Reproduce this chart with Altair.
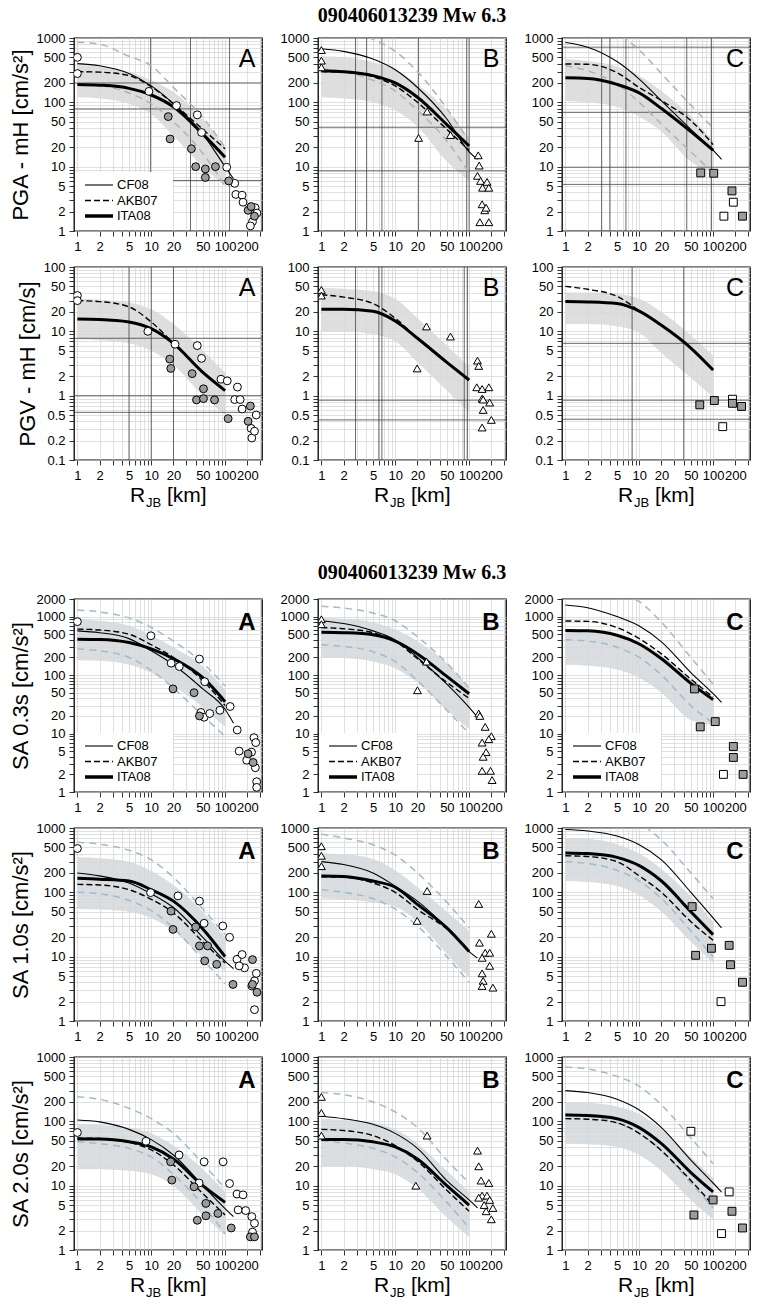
import altair as alt
import pandas as pd

FONT = "Liberation Sans"
SERIF = "Liberation Serif"
TITLE = "090406013239 Mw 6.3"

# model-curve distance nodes (km)
D = [1, 2, 5, 10, 20, 50, 100]
D_CF = [1, 2, 5, 10, 20, 50, 100, 130]

X_LABELS = [1, 2, 5, 10, 20, 50, 100, 200]
Y_LAB_1_1000 = [1, 2, 5, 10, 20, 50, 100, 200, 500, 1000]
Y_LAB_01_100 = [0.1, 0.2, 0.5, 1, 2, 5, 10, 20, 50, 100]
Y_LAB_1_2000 = [1, 2, 5, 10, 20, 50, 100, 200, 500, 1000, 2000]

# ---------------- PGA ----------------
PGA_CF08 = {"A": [400, 370, 280, 180, 95, 32, 10, 6.5],
            "B": [680, 620, 470, 320, 170, 55, 17, 13],
            "C": [850, 720, 430, 230, 105, 38, 18, 13]}
PGA_AKB07 = {"A": [300, 295, 260, 175, 95, 38, 19],
             "B": [300, 295, 250, 180, 100, 38, 18],
             "C": [395, 390, 290, 170, 106, 52, 22]}
PGA_ITA08 = {"A": [190, 185, 165, 130, 85, 32, 14],
             "B": [310, 300, 260, 200, 120, 45, 21],
             "C": [240, 235, 190, 140, 80, 35, 18]}
PGA_BAND_LO = {"A": [120, 115, 95, 66, 30, 10, 5],
               "B": [120, 115, 100, 75, 42, 12, 6],
               "C": [105, 100, 85, 60, 35, 12, 8]}
PGA_BAND_HI = {"A": [380, 360, 300, 220, 145, 55, 20],
               "B": [520, 500, 420, 320, 190, 75, 28],
               "C": [470, 440, 360, 260, 150, 60, 25]}
PGA_SIG_HI = {"A": [860, 800, 520, 370, 170, 58, 20],
              "B": [1500, 1350, 950, 620, 300, 80, 25],
              "C": [2200, 1900, 1200, 650, 280, 90, 40]}
PGA_SIG_LO = {"A": [200, 185, 140, 95, 50, 16, 5],
              "B": [330, 300, 220, 150, 75, 25, 8],
              "C": [370, 310, 190, 100, 46, 17, 8]}
PGA_WHITE = {"A": [(1, 500), (1, 280), (9.3, 148), (22, 89), (42, 64), (48, 34), (105, 9.8),
                   (135, 5.5), (140, 3.7), (170, 3.6), (175, 2.8), (255, 2.3), (235, 1.4),
                   (270, 1.9), (220, 1.2)],
             "B": [(1, 650), (1, 445), (1, 350), (20.7, 28), (27, 72), (56, 31), (133, 15),
                   (137, 10.4), (130, 7.2), (143, 6), (152, 4.7), (175, 5.8), (185, 4.7),
                   (150, 2.6), (163, 2.1), (140, 1.37), (185, 1.37), (170, 2.3)],
             "C": [(188, 2.8), (140, 1.7)]}
PGA_GRAY = {"A": [(17, 60), (18, 27), (35, 19), (40, 10), (54, 9.2), (54, 6.8), (74, 10),
                  (112, 6), (205, 2.1), (225, 2.4), (250, 1.7)],
            "B": [],
            "C": [(68, 8), (102, 7.9), (180, 4.2), (250, 1.7)]}
# dark scan-grid lines seen in the top figure
PGA_DARK_V = {"A": [9.8, 34, 115], "B": [2.9, 4.1, 6.6, 20.7, 93, 100], "C": [3.1, 4, 6.6, 44, 95]}
PGA_DARK_H = {"A": [200, 79, 6.1], "B": [41, 8.6], "C": [720, 70, 9.8, 5.3]}

# ---------------- PGV ----------------
PGV_AKB07 = {"A": [30, 29, 24, 14, 6.5, 2.3, 1.2],
             "B": [37, 34, 27, 16, 7.8, 3.3, 1.75],
             "C": [50, 45, 35, 21, 12.4, 5.5, 2.5]}
PGV_ITA08 = {"A": [15.5, 15.3, 14, 11, 6.5, 2.3, 1.2],
             "B": [22, 22, 20.5, 14.5, 7.8, 3.3, 1.75],
             "C": [29, 28.6, 27, 20.6, 12.4, 5.5, 2.5]}
PGV_BAND_LO = {"A": [7.5, 7.3, 6.5, 5, 3, 1, 0.5],
               "B": [10, 10, 9, 7, 3.3, 1.2, 0.55],
               "C": [13, 13, 12, 9.5, 4.6, 1.9, 0.95]}
PGV_BAND_HI = {"A": [32, 31, 28, 22, 13, 5, 2.3],
               "B": [47, 46, 42, 32, 16, 6, 2.8],
               "C": [40, 40, 38, 32, 20, 8.7, 4.2]}
PGV_WHITE = {"A": [(1, 36), (1, 30), (9, 10), (21, 6.3), (42, 6), (48, 3.8), (88, 1.8), (107, 1.7),
                   (147, 1.36), (135, 0.87), (160, 0.87), (170, 0.62), (264, 0.5), (225, 0.31),
                   (230, 0.22), (250, 0.28)],
             "B": [(1, 44), (1, 36), (26.5, 11.9), (56, 8.3), (19.8, 2.65), (130, 3.5), (135, 2.9),
                   (127, 1.35), (150, 1.27), (185, 1.35), (150, 0.9), (155, 0.87), (190, 0.78),
                   (155, 0.6), (200, 0.42), (150, 0.32)],
             "C": [(183, 0.88), (135, 0.33)]}
PGV_GRAY = {"A": [(17.8, 3.7), (18.4, 2.65), (35.8, 2.2), (41, 0.86), (51, 1.28), (51, 0.9),
                  (72, 0.86), (110, 0.44), (220, 0.69), (205, 0.4)],
            "B": [],
            "C": [(66, 0.72), (104, 0.84), (183, 0.76), (243, 0.68)]}
PGV_DARK_V = {"A": [5, 10, 20], "B": [2.9, 6, 6.6, 86, 95], "C": [8, 40]}
PGV_DARK_H = {"A": [7.8, 1, 0.55], "B": [0.85, 0.42], "C": [6.5, 0.85, 0.43]}

# ---------------- SA 0.3 s ----------------
SA03_CF08 = {"A": [570, 530, 420, 260, 150, 58, 26, 15],
             "B": [850, 760, 570, 400, 200, 70, 28, 19],
             "C": [1580, 1420, 1000, 690, 370, 110, 48, 34]}
SA03_AKB07 = {"A": [610, 590, 500, 330, 200, 80, 30],
              "B": [650, 620, 530, 380, 190, 75, 40],
              "C": [840, 830, 650, 420, 230, 85, 42]}
SA03_ITA08 = {"A": [410, 405, 360, 280, 190, 90, 35],
              "B": [540, 530, 490, 380, 230, 95, 48],
              "C": [580, 570, 480, 340, 190, 72, 38]}
SA03_BAND_LO = {"A": [180, 175, 150, 110, 65, 28, 13],
                "B": [200, 195, 170, 130, 75, 25, 12],
                "C": [150, 145, 125, 90, 50, 17, 14]}
SA03_BAND_HI = {"A": [900, 850, 700, 480, 300, 140, 55],
                "B": [950, 920, 800, 600, 380, 160, 60],
                "C": [600, 590, 500, 370, 220, 85, 40]}
SA03_SIG_HI = {"A": [1300, 1200, 950, 650, 380, 160, 65],
               "B": [1500, 1400, 1150, 850, 450, 160, 60],
               "C": [3500, 3200, 2500, 1800, 800, 200, 70]}
SA03_SIG_LO = {"A": [280, 260, 200, 120, 60, 20, 9],
               "B": [330, 310, 250, 170, 80, 25, 10],
               "C": [400, 380, 300, 200, 100, 30, 15]}
SA03_WHITE = {"A": [(1, 820), (9.9, 470), (18.6, 160), (24, 140), (45, 188), (53, 77), (47, 23),
                    (52, 19), (62, 22), (85, 25), (117, 29), (146, 11.5), (155, 5), (196, 3.5),
                    (228, 4.8), (246, 8.5), (260, 7), (257, 2.6), (268, 1.5), (268, 1.2)],
              "B": [(1, 900), (1, 740), (20, 55), (26.5, 170), (135, 22), (140, 20), (165, 13),
                    (150, 7), (200, 9), (185, 8), (170, 4.8), (155, 4), (150, 2.3), (195, 2.3),
                    (205, 1.6)],
              "C": [(138, 2)]}
SA03_GRAY = {"A": [(19.7, 58), (38, 50), (45, 20), (205, 4.5), (240, 3.2)],
             "B": [],
             "C": [(56, 58), (67, 13), (107, 16), (188, 6), (188, 3.9), (255, 2)]}

# ---------------- SA 1.0 s ----------------
SA10_CF08 = {"A": [200, 180, 140, 95, 58, 20, 8.5, 6.5],
             "B": [300, 270, 200, 125, 73, 28, 12, 9.5],
             "C": [950, 900, 750, 550, 320, 100, 40, 28]}
SA10_AKB07 = {"A": [133, 130, 110, 78, 48, 17, 8],
              "B": [175, 172, 140, 100, 54, 27, 12],
              "C": [370, 360, 300, 180, 100, 35, 18]}
SA10_ITA08 = {"A": [165, 160, 150, 110, 73, 27, 10],
              "B": [180, 177, 150, 120, 65, 28, 12],
              "C": [410, 400, 350, 260, 150, 50, 22]}
SA10_BAND_LO = {"A": [55, 54, 50, 40, 25, 10, 6],
                "B": [80, 78, 70, 60, 35, 11, 4.7],
                "C": [150, 145, 125, 90, 50, 17, 8]}
SA10_BAND_HI = {"A": [350, 340, 300, 215, 130, 50, 20],
                "B": [400, 390, 330, 220, 120, 50, 25],
                "C": [700, 680, 560, 400, 230, 85, 35]}
SA10_SIG_HI = {"A": [600, 560, 450, 320, 170, 55, 22],
               "B": [800, 700, 550, 380, 200, 70, 28],
               "C": [2500, 2300, 1800, 1200, 650, 200, 80]}
SA10_SIG_LO = {"A": [100, 95, 75, 52, 28, 9, 3.8],
               "B": [110, 100, 80, 55, 30, 10, 4],
               "C": [300, 280, 220, 150, 80, 25, 10]}
SA10_WHITE = {"A": [(1, 480), (9.8, 99), (23, 88), (45, 73), (52, 33), (93, 30), (115, 20),
                    (145, 9.1), (170, 10.8), (183, 6.7), (155, 7.2), (250, 4.2), (250, 1.5),
                    (265, 5.5), (230, 3.5)],
              "B": [(1, 520), (1, 370), (1, 255), (19.8, 36), (27, 105), (135, 66), (138, 16.5),
                    (200, 22.7), (165, 11.5), (190, 11.5), (150, 9.6), (190, 7.2), (150, 5.5),
                    (155, 4.2), (150, 3.5), (210, 3.3)],
              "C": [(128, 2)]}
SA10_GRAY = {"A": [(18.5, 51), (19.7, 26.5), (40, 29), (45, 14.7), (58, 14.7), (53, 8.6),
                   (77, 7.6), (128, 3.7), (235, 9), (235, 3.7), (270, 2.8)],
             "B": [],
             "C": [(52, 60), (58, 10.5), (95, 13.5), (165, 15), (172, 7.5), (250, 4)]}

# ---------------- SA 2.0 s ----------------
SA20_CF08 = {"A": [105, 98, 75, 52, 30, 10, 4.4, 3.3],
             "B": [120, 110, 90, 65, 38, 12, 6, 4.5],
             "C": [300, 280, 220, 150, 80, 25, 11, 8]}
SA20_AKB07 = {"A": [55, 54, 47, 36, 21, 7.5, 3.5],
              "B": [75, 72, 60, 42, 24, 8.5, 4],
              "C": [110, 108, 95, 65, 35, 12, 5]}
SA20_ITA08 = {"A": [53, 53, 48, 40, 26, 10, 5.5],
              "B": [52, 52, 48, 40, 26, 10, 5],
              "C": [125, 123, 110, 80, 45, 16, 8]}
SA20_BAND_LO = {"A": [18, 18, 17, 15, 10, 3.5, 1.7],
                "B": [20, 20, 18, 15, 9, 3.2, 1.6],
                "C": [45, 44, 40, 30, 17, 6, 3]}
SA20_BAND_HI = {"A": [90, 88, 80, 65, 42, 18, 8],
                "B": [110, 105, 95, 75, 45, 17, 8],
                "C": [200, 195, 170, 130, 75, 28, 13]}
SA20_SIG_HI = {"A": [240, 220, 160, 110, 65, 22, 9],
               "B": [280, 260, 200, 140, 80, 25, 11],
               "C": [700, 650, 500, 350, 180, 55, 22]}
SA20_SIG_LO = {"A": [48, 45, 38, 28, 15, 5, 1.8],
               "B": [50, 46, 38, 28, 16, 5.5, 2.2],
               "C": [130, 120, 95, 65, 35, 11, 4.5]}
SA20_WHITE = {"A": [(1, 67), (8.5, 49), (23.8, 30), (52, 23.5), (94, 23.5), (44.5, 11), (115, 10.8),
                    (145, 7.4), (175, 7.2), (150, 4.2), (190, 4.1), (230, 3.3), (250, 2.6), (235, 1.9)],
              "B": [(1, 240), (1, 135), (1, 60), (19, 10), (27, 60), (130, 35), (135, 20), (145, 12),
                    (150, 7), (135, 6.5), (160, 5), (170, 4), (175, 7), (185, 11), (190, 6), (200, 3),
                    (210, 4.5)],
              "C": [(50, 70), (130, 1.8), (165, 8)]}
SA20_GRAY = {"A": [(18.3, 23.5), (19, 12.2), (38, 9.6), (42, 2.9), (55, 5.3), (55, 3.4), (80, 3.7),
                   (121, 2.2), (220, 1.6), (250, 1.6)],
             "B": [],
             "C": [(55, 3.5), (100, 6), (180, 4), (250, 2.2)]}


def grid_vals(lo_exp, hi_val):
    out = []
    e = lo_exp
    while True:
        for m in range(1, 10):
            v = round(m * 10.0 ** e, 6)
            if v > hi_val + 1e-9:
                return out
            out.append(v)
        e += 1


def lab_expr(labels):
    return "indexof([" + ",".join(str(v) for v in labels) + "], datum.value) >= 0 ? datum.label : ''"


ROWS = [
    dict(ytitle="PGA - mH [cm/s²]", dom=[1, 1000], ylab=Y_LAB_1_1000, cf=PGA_CF08, akb=PGA_AKB07,
         ita=PGA_ITA08, blo=PGA_BAND_LO, bhi=PGA_BAND_HI, shi=PGA_SIG_HI, slo=PGA_SIG_LO,
         white=PGA_WHITE, gray=PGA_GRAY, legend=["A"], bold=False, sa=False, xtitle=False,
         dv=PGA_DARK_V, dh=PGA_DARK_H),
    dict(ytitle="PGV - mH [cm/s]", dom=[0.1, 100], ylab=Y_LAB_01_100, cf=None, akb=PGV_AKB07,
         ita=PGV_ITA08, blo=PGV_BAND_LO, bhi=PGV_BAND_HI, shi=None, slo=None,
         white=PGV_WHITE, gray=PGV_GRAY, legend=[], bold=False, sa=False, xtitle=True,
         dv=PGV_DARK_V, dh=PGV_DARK_H),
    dict(ytitle="SA 0.3s [cm/s²]", dom=[1, 2000], ylab=Y_LAB_1_2000, cf=SA03_CF08, akb=SA03_AKB07,
         ita=SA03_ITA08, blo=SA03_BAND_LO, bhi=SA03_BAND_HI, shi=SA03_SIG_HI, slo=SA03_SIG_LO,
         white=SA03_WHITE, gray=SA03_GRAY, legend=["A", "B", "C"], bold=True, sa=True, xtitle=False,
         dv=None, dh=None),
    dict(ytitle="SA 1.0s [cm/s²]", dom=[1, 1000], ylab=Y_LAB_1_1000, cf=SA10_CF08, akb=SA10_AKB07,
         ita=SA10_ITA08, blo=SA10_BAND_LO, bhi=SA10_BAND_HI, shi=SA10_SIG_HI, slo=SA10_SIG_LO,
         white=SA10_WHITE, gray=SA10_GRAY, legend=[], bold=True, sa=True, xtitle=False,
         dv=None, dh=None),
    dict(ytitle="SA 2.0s [cm/s²]", dom=[1, 1000], ylab=Y_LAB_1_1000, cf=SA20_CF08, akb=SA20_AKB07,
         ita=SA20_ITA08, blo=SA20_BAND_LO, bhi=SA20_BAND_HI, shi=SA20_SIG_HI, slo=SA20_SIG_LO,
         white=SA20_WHITE, gray=SA20_GRAY, legend=[], bold=True, sa=True, xtitle=True,
         dv=None, dh=None),
]

W, H = 188, 193
X_GRID = grid_vals(0, 300)
SHAPES = {"A": "circle", "B": "triangle-up", "C": "square"}
ONE = pd.DataFrame({"t": [""]})


def txt(text, x, y, size, **kw):
    return alt.Chart(pd.DataFrame({"t": [text]})).mark_text(
        fontSize=size, color="black", **kw).encode(x=alt.value(x), y=alt.value(y), text="t:N")


def make_panel(ri, r, col):
    xs = alt.Scale(type="log", domain=[0.9, 316], nice=False)
    ys = alt.Scale(type="log", domain=r["dom"], nice=False)
    lo_exp = -1 if r["dom"][0] < 1 else 0
    ygrid = grid_vals(lo_exp, r["dom"][1])
    common = dict(grid=True, gridColor="#d2d2d2", gridWidth=0.7, tickColor="black", tickSize=5,
                  tickWidth=0.8, domain=False, labelFont=FONT, labelFontSize=13, labelColor="black",
                  labelPadding=4, labelOverlap=False, labelFlush=False, format="~g")
    xax = alt.Axis(values=X_GRID, labelExpr=lab_expr(X_LABELS), title="", **common)
    yax = alt.Axis(values=ygrid, labelExpr=lab_expr(r["ylab"]),
                   title=r["ytitle"] if col == "A" else "", titleFont=FONT, titleFontSize=22,
                   titleFontWeight="normal", titleColor="black", titlePadding=4, **common)
    X = alt.X("d:Q", scale=xs, axis=xax)
    Y = alt.Y("v:Q", scale=ys, axis=yax)
    band_col = "#d3d8da" if r["sa"] else "#d8d8d8"
    sig_col = "#9fbccb" if r["sa"] else "#b2b2b2"

    layers = []
    band = pd.DataFrame({"d": D, "v": r["blo"][col], "v2": r["bhi"][col]})
    layers.append(alt.Chart(band).mark_area(color=band_col, opacity=0.85, interpolate="monotone",
                                            clip=True).encode(x=X, y=Y, y2="v2:Q"))
    if r["dv"] is not None:
        dv = pd.DataFrame({"d": r["dv"][col]})
        layers.append(alt.Chart(dv).mark_rule(color="#3c3c3c", strokeWidth=0.9, opacity=0.85,
                                              clip=True).encode(x=X))
        dh = pd.DataFrame({"v": r["dh"][col]})
        layers.append(alt.Chart(dh).mark_rule(color="#3c3c3c", strokeWidth=0.9, opacity=0.85,
                                              clip=True).encode(y=Y))
    if r["shi"] is not None:
        for key in ("shi", "slo"):
            df = pd.DataFrame({"d": D, "v": r[key][col]})
            layers.append(alt.Chart(df).mark_line(color=sig_col, strokeWidth=1.5, strokeDash=[7, 5],
                                                  interpolate="monotone", clip=True).encode(x=X, y=Y))
    has_leg = col in r["legend"]
    if has_leg:
        layers.append(alt.Chart(ONE).mark_rect(color="white").encode(
            x=alt.value(1), x2=alt.value(99), y=alt.value(134), y2=alt.value(192)))
    if r["cf"] is not None:
        df = pd.DataFrame({"d": D_CF, "v": r["cf"][col]})
        layers.append(alt.Chart(df).mark_line(color="black", strokeWidth=1.1, interpolate="monotone",
                                              clip=True).encode(x=X, y=Y))
    df = pd.DataFrame({"d": D, "v": r["akb"][col]})
    layers.append(alt.Chart(df).mark_line(color="black", strokeWidth=1.4, strokeDash=[6, 3],
                                          interpolate="monotone", clip=True).encode(x=X, y=Y))
    df = pd.DataFrame({"d": D, "v": r["ita"][col]})
    layers.append(alt.Chart(df).mark_line(color="black", strokeWidth=3, interpolate="monotone",
                                          clip=True).encode(x=X, y=Y))
    for key, fill in (("white", "white"), ("gray", "#9c9c9c")):
        pts = r[key][col]
        if pts:
            df = pd.DataFrame(pts, columns=["d", "v"])
            layers.append(alt.Chart(df).mark_point(shape=SHAPES[col], filled=True, fill=fill,
                                                   stroke="black", strokeWidth=1, size=62, opacity=1,
                                                   clip=True).encode(x=X, y=Y))
    # panel letter
    if r["bold"]:
        layers.append(txt(col, W - 15, 24, 24, fontWeight="bold", font=FONT, align="center",
                          baseline="middle"))
    else:
        layers.append(txt(col, W - 15, 21, 25, font=FONT, align="center", baseline="middle"))
    # legend entries
    if has_leg:
        for i, (name, sw, dash) in enumerate((("CF08", 1.1, None), ("AKB07", 1.4, [6, 3]),
                                              ("ITA08", 3.5, None))):
            yy = 147 + 15.5 * i
            kw = dict(color="black", strokeWidth=sw)
            if dash:
                kw["strokeDash"] = dash
            layers.append(alt.Chart(ONE).mark_rule(**kw).encode(
                x=alt.value(11), x2=alt.value(39), y=alt.value(yy)))
            layers.append(txt(name, 43, yy, 13, font=FONT, align="left", baseline="middle"))
    # figure titles
    if col == "B" and ri in (0, 2):
        layers.append(txt(TITLE, W / 2, -22 if ri == 0 else -26, 20, font=SERIF,
                          fontWeight="bold", align="center", baseline="middle"))
    # x-axis titles
    if r["xtitle"]:
        layers.append(txt("R", 56, H + 42, 21, font=FONT, align="left", baseline="alphabetic"))
        layers.append(txt("JB", 72, H + 47, 13, font=FONT, align="left", baseline="alphabetic"))
        layers.append(txt("[km]", 93, H + 42, 21, font=FONT, align="left", baseline="alphabetic"))
    return alt.layer(*layers).properties(width=W, height=H)


def spacer():
    return alt.Chart(ONE).mark_point(opacity=0).encode(
        x=alt.value(0), y=alt.value(0)).properties(
        width=W, height=67, view=alt.ViewBackground(stroke="transparent"))


cells = []
for ri, r in enumerate(ROWS):
    if ri == 2:
        cells += [spacer(), spacer(), spacer()]
    for col in ("A", "B", "C"):
        cells.append(make_panel(ri, r, col))

chart = alt.concat(*cells, columns=3, spacing={"row": 36, "column": 56},
                   bounds="flush", align="each").properties(
    padding={"left": 8, "top": 5, "right": 2, "bottom": 2},
    background="white",
).configure_view(stroke="black", strokeWidth=1.3)

chart.save("out.html", embed_options={"renderer": "svg", "actions": False})
